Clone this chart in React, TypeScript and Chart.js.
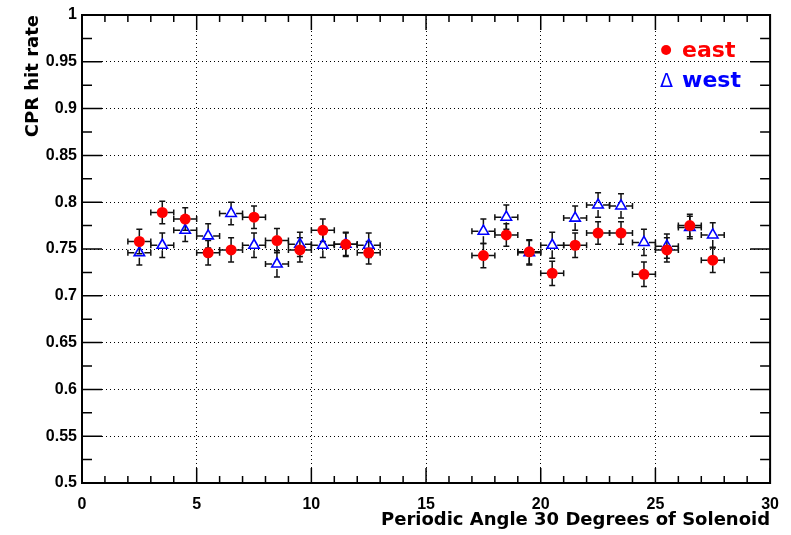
import React, { useEffect, useRef } from 'react';
import { Chart, registerables } from 'chart.js';

Chart.register(...registerables);

// ---- data ----
const xCenters = [2.5, 3.5, 4.5, 5.5, 6.5, 7.5, 8.5, 9.5, 10.5, 11.5, 12.5, 17.5, 18.5, 19.5, 20.5, 21.5, 22.5, 23.5, 24.5, 25.5, 26.5, 27.5];
const xHalfWidth = 0.5;
const eastValues = [0.758, 0.789, 0.782, 0.746, 0.749, 0.784, 0.759, 0.749, 0.770, 0.755, 0.746, 0.743, 0.765, 0.747, 0.724, 0.754, 0.767, 0.767, 0.723, 0.749, 0.775, 0.738];
const eastErrors = [0.013, 0.012, 0.012, 0.013, 0.013, 0.012, 0.013, 0.013, 0.012, 0.012, 0.012, 0.013, 0.012, 0.013, 0.013, 0.013, 0.012, 0.012, 0.013, 0.013, 0.012, 0.013];
const westValues = [0.746, 0.754, 0.770, 0.764, 0.788, 0.754, 0.734, 0.755, 0.754, 0.755, 0.754, 0.769, 0.784, 0.746, 0.754, 0.783, 0.797, 0.796, 0.757, 0.753, 0.773, 0.765];
const westErrors = [0.013, 0.013, 0.012, 0.013, 0.012, 0.013, 0.014, 0.013, 0.013, 0.013, 0.013, 0.013, 0.013, 0.013, 0.014, 0.013, 0.013, 0.013, 0.014, 0.013, 0.012, 0.013];

const xTickValues = [0, 5, 10, 15, 20, 25, 30];
const xTickLabels = ['0', '5', '10', '15', '20', '25', '30'];
const yTickValues = [0.5, 0.55, 0.6, 0.65, 0.7, 0.75, 0.8, 0.85, 0.9, 0.95, 1];
const yTickLabels = ['0.5', '0.55', '0.6', '0.65', '0.7', '0.75', '0.8', '0.85', '0.9', '0.95', '1'];
const xMinorStep = 1;
const yMinorStep = 0.025;

const xTitle = 'Periodic Angle 30 Degrees of Solenoid';
const yTitle = 'CPR hit rate';
const eastLabel = 'east';
const westLabel = 'west';

const RED = '#ff0000';
const BLUE = '#0000ff';

const errorBarPlugin = {
  id: 'errorBars',
  beforeDatasetsDraw(chart: any) {
    const { ctx } = chart;
    const xs = chart.scales.x;
    const ys = chart.scales.y;
    const series = [
      { vals: eastValues, errs: eastErrors, gap: 5 },
      { vals: westValues, errs: westErrors, gap: 5 },
    ];
    ctx.save();
    ctx.strokeStyle = '#111';
    ctx.lineWidth = 1.5;
    const c = 3;
    series.forEach((s) => {
      xCenters.forEach((xc, i) => {
        const px = xs.getPixelForValue(xc);
        const py = ys.getPixelForValue(s.vals[i]);
        const xl = xs.getPixelForValue(xc - xHalfWidth);
        const xr = xs.getPixelForValue(xc + xHalfWidth);
        const yt = ys.getPixelForValue(s.vals[i] + s.errs[i]);
        const yb = ys.getPixelForValue(s.vals[i] - s.errs[i]);
        ctx.beginPath();
        ctx.moveTo(xl, py); ctx.lineTo(px - s.gap, py);
        ctx.moveTo(px + s.gap, py); ctx.lineTo(xr, py);
        ctx.moveTo(px, yt); ctx.lineTo(px, py - s.gap);
        ctx.moveTo(px, py + s.gap); ctx.lineTo(px, yb);
        ctx.moveTo(xl, py - c); ctx.lineTo(xl, py + c);
        ctx.moveTo(xr, py - c); ctx.lineTo(xr, py + c);
        ctx.moveTo(px - c, yt); ctx.lineTo(px + c, yt);
        ctx.moveTo(px - c, yb); ctx.lineTo(px + c, yb);
        ctx.stroke();
      });
    });
    ctx.restore();
  },
};

const framePlugin = {
  id: 'rootFrame',
  afterDatasetsDraw(chart: any) {
    const { ctx, chartArea } = chart;
    const { left, right, top, bottom } = chartArea;
    const xs = chart.scales.x;
    const ys = chart.scales.y;
    ctx.save();
    ctx.strokeStyle = '#000';
    ctx.lineWidth = 1.5;
    ctx.beginPath();
    for (let v = xs.min; v <= xs.max + 1e-9; v += xMinorStep) {
      const major = xTickValues.some((t) => Math.abs(t - v) < 1e-6);
      const len = major ? 15 : 7;
      const px = xs.getPixelForValue(v);
      ctx.moveTo(px, bottom); ctx.lineTo(px, bottom - len);
      ctx.moveTo(px, top); ctx.lineTo(px, top + len);
    }
    for (let v = ys.min; v <= ys.max + 1e-9; v += yMinorStep) {
      const major = yTickValues.some((t) => Math.abs(t - v) < 1e-6);
      const len = major ? 20 : 10;
      const py = ys.getPixelForValue(v);
      ctx.moveTo(left, py); ctx.lineTo(left + len, py);
      ctx.moveTo(right, py); ctx.lineTo(right - len, py);
    }
    ctx.stroke();
    ctx.lineWidth = 2;
    ctx.strokeRect(left, top, right - left, bottom - top);
    ctx.restore();
  },
};

const legendPlugin = {
  id: 'rootLegend',
  afterDraw(chart: any) {
    const { ctx, chartArea } = chart;
    const x0 = chartArea.right - 110;
    const y0 = chartArea.top + 38;
    ctx.save();
    ctx.textBaseline = 'alphabetic';
    ctx.textAlign = 'left';
    ctx.fillStyle = RED;
    ctx.beginPath();
    ctx.arc(x0 + 6, y0 - 3, 5, 0, Math.PI * 2);
    ctx.fill();
    ctx.font = 'bold 22px "DejaVu Sans"';
    ctx.fillText(eastLabel, x0 + 22, y0 + 4);
    ctx.fillStyle = BLUE;
    ctx.font = '19px "DejaVu Sans"';
    ctx.fillText('\u0394', x0, y0 + 34);
    ctx.font = 'bold 22px "DejaVu Sans"';
    ctx.fillText(westLabel, x0 + 22, y0 + 34);
    ctx.restore();
  },
};

export default function App() {
  const canvasRef = useRef<HTMLCanvasElement | null>(null);

  useEffect(() => {
    const canvas = canvasRef.current;
    if (!canvas) return;
    const eastData = xCenters.map((x, i) => ({ x, y: eastValues[i] }));
    const westData = xCenters.map((x, i) => ({ x, y: westValues[i] }));
    const chart = new Chart(canvas, {
      type: 'scatter',
      data: {
        datasets: [
          {
            label: eastLabel,
            data: eastData,
            pointStyle: 'circle',
            pointRadius: 5.5,
            pointBackgroundColor: RED,
            pointBorderColor: RED,
            pointBorderWidth: 0,
          },
          {
            label: westLabel,
            data: westData,
            pointStyle: 'triangle',
            pointRadius: 6,
            pointBackgroundColor: 'rgba(255,255,255,0)',
            pointBorderColor: BLUE,
            pointBorderWidth: 1.6,
          },
        ],
      },
      options: {
        responsive: false,
        animation: false,
        layout: { padding: { left: 0, top: 15, right: 19, bottom: 0 } },
        plugins: {
          legend: { display: false },
          tooltip: { enabled: false },
        },
        scales: {
          x: {
            type: 'linear',
            min: 0,
            max: 30,
            afterBuildTicks: (scale: any) => {
              scale.ticks = xTickValues.map((v) => ({ value: v }));
            },
            afterFit: (scale: any) => {
              scale.height = 52;
            },
            ticks: {
              autoSkip: false,
              maxRotation: 0,
              padding: 12,
              color: '#000',
              font: { family: '"Liberation Sans", Arial, sans-serif', size: 16, weight: 'bold' },
              callback: (_v: any, i: number) => xTickLabels[i],
            },
            grid: { color: '#000', lineWidth: 1, drawTicks: false },
            border: { display: false, dash: [1, 3] },
            title: {
              display: true,
              text: xTitle,
              align: 'end',
              color: '#000',
              padding: 4,
              font: { family: '"DejaVu Sans", sans-serif', size: 18, weight: 'bold' },
            },
          },
          y: {
            type: 'linear',
            min: 0.5,
            max: 1,
            afterBuildTicks: (scale: any) => {
              scale.ticks = yTickValues.map((v) => ({ value: v }));
            },
            afterFit: (scale: any) => {
              scale.width = 82;
            },
            ticks: {
              autoSkip: false,
              padding: 5,
              color: '#000',
              font: { family: '"Liberation Sans", Arial, sans-serif', size: 16, weight: 'bold' },
              callback: (_v: any, i: number) => yTickLabels[i],
            },
            grid: { color: '#000', lineWidth: 1, drawTicks: false },
            border: { display: false, dash: [1, 3] },
            title: {
              display: true,
              text: yTitle,
              align: 'end',
              color: '#000',
              padding: 23,
              font: { family: '"DejaVu Sans", sans-serif', size: 18, weight: 'bold' },
            },
          },
        },
      } as any,
      plugins: [errorBarPlugin, framePlugin, legendPlugin],
    });
    return () => chart.destroy();
  }, []);

  return (
    <canvas
      ref={canvasRef}
      width={791}
      height={535}
      style={{ position: 'absolute', left: 0, top: 0, width: 791, height: 535, background: '#fff' }}
    />
  );
}
